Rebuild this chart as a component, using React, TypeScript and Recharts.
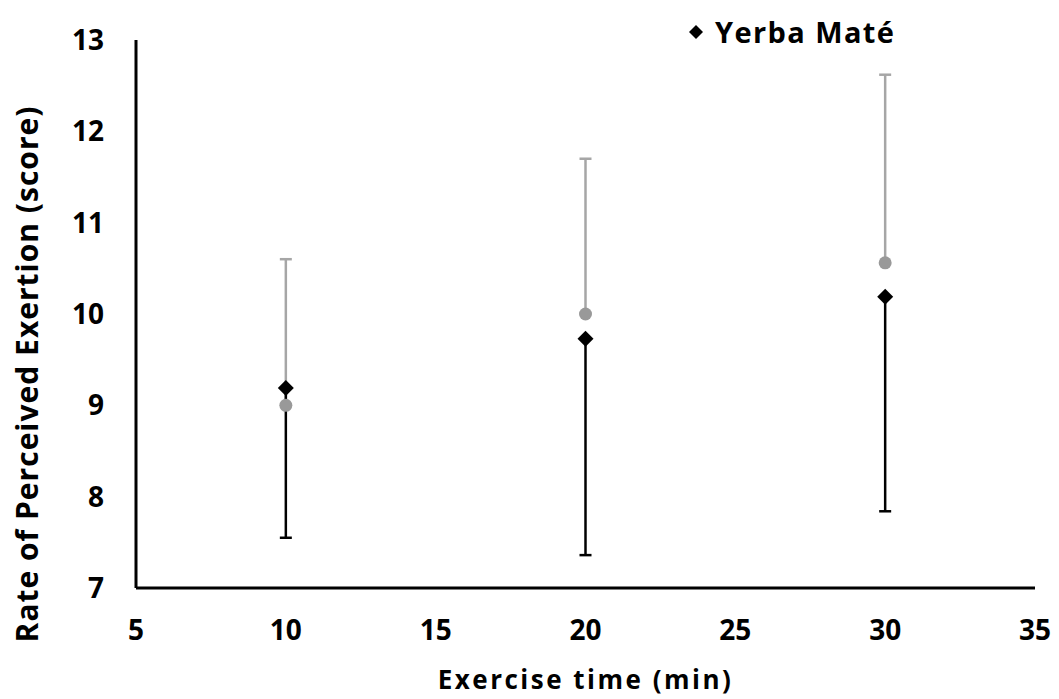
import React from 'react';
import { ScatterChart, Scatter, XAxis, YAxis, Legend, Label } from 'recharts';

const times = [10, 20, 30];
const yerbaMean = [9.19, 9.73, 10.19];
const yerbaErrDown = [1.64, 2.37, 2.35];
const placeboMean = [9.0, 10.0, 10.56];
const placeboErrUp = [1.6, 1.7, 2.06];
const xTicks = [5, 10, 15, 20, 25, 30, 35];
const yTicks = [7, 8, 9, 10, 11, 12, 13];

const yerbaData = times.map((t, i) => ({ time: t, rpe: yerbaMean[i] }));
const placeboData = times.map((t, i) => ({ time: t, rpe: placeboMean[i] }));

// one-sided error bars: one tiny series per time point, mean -> end, cap only at the end
const yerbaBars = times.map((t, i) => [
    { time: t, rpe: yerbaMean[i], end: false },
    { time: t, rpe: yerbaMean[i] - yerbaErrDown[i], end: true },
]);
const placeboBars = times.map((t, i) => [
    { time: t, rpe: placeboMean[i], end: false },
    { time: t, rpe: placeboMean[i] + placeboErrUp[i], end: true },
]);

const FONT = "'Open Sans', sans-serif";
const GRAY_LINE = '#a6a6a6';
const GRAY_DOT = '#999999';

const makeCap = (color: string) => (props: any) => {
    const { cx, cy, payload } = props;
    if (!payload || !payload.end) return <g />;
    return <line x1={cx - 6} x2={cx + 6} y1={cy} y2={cy} stroke={color} strokeWidth={2.5} />;
};
const GrayCap = makeCap(GRAY_LINE);
const BlackCap = makeCap('#000');

const Diamond = (props: any) => {
    const { cx, cy } = props;
    const r = 8;
    return <polygon points={`${cx},${cy - r} ${cx + r},${cy} ${cx},${cy + r} ${cx - r},${cy}`} fill="#000" />;
};

const Dot = (props: any) => <circle cx={props.cx} cy={props.cy} r={6.5} fill={GRAY_DOT} />;

const LegendContent = () => (
    <div style={{ display: 'flex', alignItems: 'center', fontFamily: FONT, fontWeight: 700, fontSize: 29, letterSpacing: 1.4, color: '#000', whiteSpace: 'nowrap' }}>
        <svg width={16} height={16} style={{ marginRight: 11 }}>
            <polygon points="8,1 15,8 8,15 1,8" fill="#000" />
        </svg>
        <span>Yerba Maté</span>
    </div>
);

const YTitle = (props: any) => {
    const vb = props.viewBox || { x: 0, y: 40, width: 136, height: 548 };
    const cy = vb.y + vb.height / 2 + 60;
    return (
        <text
            transform={`translate(26,${cy}) rotate(-90)`}
            textAnchor="middle"
            dominantBaseline="central"
            style={{ fill: '#000', fontSize: 30, fontWeight: 700, fontFamily: FONT, letterSpacing: 1 }}
        >
            Rate of Perceived Exertion (score)
        </text>
    );
};

const tickStyle = { fill: '#000', fontSize: 28, fontWeight: 700, fontFamily: FONT };

export default function App() {
    return (
        <div style={{ position: 'absolute', left: 0, top: 0, background: '#fff' }}>
            <ScatterChart width={1059} height={699} margin={{ top: 40, right: 24, bottom: 0, left: 0 }}>
                <XAxis
                    type="number"
                    dataKey="time"
                    domain={[5, 35]}
                    ticks={xTicks}
                    height={111}
                    axisLine={{ stroke: '#000', strokeWidth: 3 }}
                    tickLine={false}
                    tickSize={0}
                    tickMargin={32}
                    tick={tickStyle}
                >
                    <Label
                        value="Exercise time (min)"
                        position="insideBottom"
                        offset={10}
                        style={{ fill: '#000', fontSize: 26, fontWeight: 700, fontFamily: FONT, letterSpacing: 2.5 }}
                    />
                </XAxis>
                <YAxis
                    type="number"
                    dataKey="rpe"
                    domain={[7, 13]}
                    ticks={yTicks}
                    width={136}
                    axisLine={{ stroke: '#000', strokeWidth: 3 }}
                    tickLine={false}
                    tickSize={0}
                    tickMargin={32}
                    tick={tickStyle}
                >
                    <Label content={<YTitle />} />
                </YAxis>
                <Legend
                    layout="horizontal"
                    verticalAlign="middle"
                    align="center"
                    wrapperStyle={{ top: 12, left: 688, width: 'auto' }}
                    content={<LegendContent />}
                />
                {placeboBars.map((d, i) => (
                    <Scatter
                        key={`pb${i}`}
                        data={d}
                        legendType="none"
                        line={{ stroke: GRAY_LINE, strokeWidth: 2.5 }}
                        shape={GrayCap}
                        isAnimationActive={false}
                    />
                ))}
                {yerbaBars.map((d, i) => (
                    <Scatter
                        key={`yb${i}`}
                        data={d}
                        legendType="none"
                        line={{ stroke: '#000', strokeWidth: 2.5 }}
                        shape={BlackCap}
                        isAnimationActive={false}
                    />
                ))}
                <Scatter name="Placebo" data={placeboData} legendType="none" shape={<Dot />} isAnimationActive={false} />
                <Scatter name="Yerba Maté" data={yerbaData} shape={<Diamond />} isAnimationActive={false} />
            </ScatterChart>
        </div>
    );
}
